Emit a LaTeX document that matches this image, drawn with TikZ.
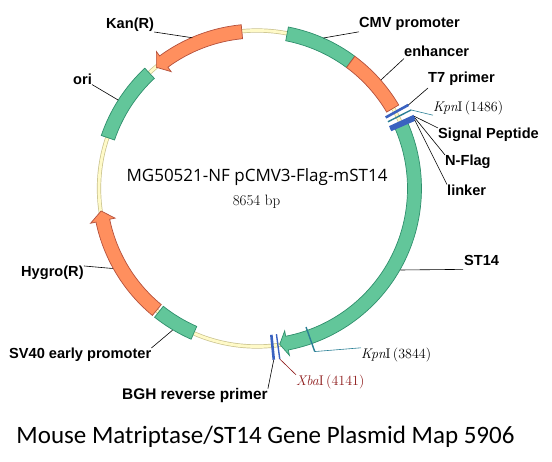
\documentclass[tikz,border=0pt]{standalone}
\usepackage{fontspec}
\usepackage{xcolor}
\usetikzlibrary{positioning}
\newfontfamily\labelfont{Liberation Sans}
\newfontfamily\namefont{Open Sans}
\newfontfamily\titlefont{Carlito}
\newcommand{\onum}{\addfontfeature{Numbers=OldStyle}}
\definecolor{mapgreen}{HTML}{62C69A}
\definecolor{mapgreenline}{HTML}{2F8F6C}
\definecolor{maporange}{HTML}{FF8F5E}
\definecolor{maporangeline}{HTML}{B4503C}
\definecolor{mapyellow}{HTML}{FFFAC8}
\definecolor{mapyellowline}{HTML}{C9C28E}
\definecolor{mapblue}{HTML}{3A62C0}
\definecolor{mapteal}{HTML}{2A7F95}
\definecolor{mapred}{HTML}{8E1B1B}
% band between two angles on the ring
\newcommand{\featbox}[3]{
  \draw[#1] (#2:164.5) arc[start angle=#2,end angle=#3,radius=164.5]
    -- (#3:150.5) arc[start angle=#3,end angle=#2,radius=150.5] -- cycle;
}
% band with an arrow head: style, start, head base, tip
\newcommand{\featarrow}[4]{
  \draw[#1] (#2:164.5) arc[start angle=#2,end angle=#3,radius=164.5]
    -- (#3:170) -- (#4:157.5) -- (#3:145)
    -- (#3:150.5) arc[start angle=#3,end angle=#2,radius=150.5] -- cycle;
}
\begin{document}
\begin{tikzpicture}[
    x=1pt, y=1pt,
    greenfeat/.style={fill=mapgreen, draw=mapgreenline, line width=0.7pt},
    orangefeat/.style={fill=maporange, draw=maporangeline, line width=0.7pt},
    bluetick/.style={draw=mapblue, line width=3pt},
    feat/.style={font=\labelfont\bfseries\fontsize{14.6}{16}\selectfont, inner sep=0pt, anchor=west},
    site/.style={font=\fontsize{14}{16}\selectfont, inner sep=0pt, anchor=west},
    leader/.style={draw=black, line width=0.6pt}
]
\useasboundingbox (0,0) rectangle (552,-462);

\begin{scope}[shift={(257,-188.5)}]
% backbone
\draw[draw=mapyellowline, line width=4.2pt] (0,0) circle (158);
\draw[draw=mapyellow, line width=2.8pt] (0,0) circle (158);

% features
\featbox{greenfeat}{79}{53.5}
\featbox{orangefeat}{53.5}{30.5}
\featarrow{greenfeat}{23.5}{-79}{-81.7}
\featarrow{orangefeat}{95.5}{126.3}{129.7}
\featbox{greenfeat}{133}{161.2}
\featarrow{orangefeat}{-129.5}{-168.2}{-171.8}
\featbox{greenfeat}{-128.5}{-113.6}

% ticks
\draw[bluetick, line width=2.6pt] (28.9:147) -- (28.9:173) coordinate (t7);
\draw[draw=mapteal, line width=1.4pt] (27:147) -- (27:173) coordinate (kpnA);
\draw[bluetick] (24.7:146) -- (24.7:173) coordinate (sigp);
\draw[bluetick, line width=2pt] (24:146) -- (24:173) coordinate (nflag);
\draw[bluetick, line width=2pt] (23.5:146) -- (23.5:172) coordinate (lnk);
\draw[draw=mapteal, line width=1.4pt] (-70.5:147) -- (-70.5:173) coordinate (kpnB);
\draw[draw=mapblue, line width=1.4pt] (-82.4:147) -- (-82.4:172) coordinate (xba);
\draw[bluetick, line width=2.6pt] (-84.4:147) -- (-84.4:172) coordinate (bgh);

% leader ends on the ring
\coordinate (cmv) at (66.2:164.5);
\coordinate (enh) at (41.2:164.5);
\coordinate (st14) at (-29.6:165);
\coordinate (kan) at (113.2:164);
\coordinate (ori) at (147.5:164.5);
\coordinate (hyg) at (-151:165);
\coordinate (sv40) at (-120.8:165);
\end{scope}

% feature labels
\node[feat] (lbcmv) at (359,-24) {CMV promoter};
\node[feat] (lbenh) at (404,-51) {enhancer};
\node[feat] (lbt7) at (428,-79) {T7 primer};
\node[site] (lbkpna) at (433,-108) {{\itshape Kpn}I\,{\onum(1486)}};
\node[feat] (lbsig) at (438,-135) {Signal Peptide};
\node[feat] (lbnf) at (445,-162) {N-Flag};
\node[feat] (lblnk) at (447,-190) {linker};
\node[feat] (lbst) at (464,-260) {ST14};
\node[site] (lbkpnb) at (361,-355) {{\itshape Kpn}I\,{\onum(3844)}};
\node[site, text=mapred] (lbxba) at (296,-382) {{\itshape Xba}I\,{\onum(4141)}};
\node[feat, font=\labelfont\bfseries\fontsize{15.4}{17}\selectfont] (lbbgh) at (122,-396) {BGH reverse primer};
\node[feat] (lbsv) at (9,-355) {SV40 early promoter};
\node[feat] (lbhyg) at (21,-273) {Hygro(R)};
\node[feat] (lbori) at (73,-79) {ori};
\node[feat] (lbkan) at (106,-25) {Kan(R)};

% leaders
\draw[leader] (cmv) -- ([yshift=-1pt]lbcmv.south west);
\draw[leader] (enh) -- ([yshift=-2pt]lbenh.south west);
\draw[leader] (t7) -- ([yshift=-2pt]lbt7.south west);
\draw[draw=mapteal, line width=0.6pt] (kpnA) -- (lbkpna.south west);
\draw[leader] (sigp) -- (lbsig.north west);
\draw[leader] (nflag) -- (lbnf.north west);
\draw[leader] (lnk) -- (lblnk.north west);
\draw[leader] (st14) -- ([xshift=-1pt,yshift=-4pt]lbst.south west);
\draw[draw=mapteal, line width=0.6pt] (kpnB) -- (lbkpnb.north west);
\draw[draw=mapred, line width=0.6pt] (xba) -- (lbxba.north west);
\draw[leader] (bgh) -- (lbbgh.north east);
\draw[leader] (sv40) -- (lbsv.north east);
\draw[leader] (hyg) -- (lbhyg.north east);
\draw[leader] (ori) -- (lbori.south east);
\draw[leader] (kan) -- (lbkan.south east);

% titles
\node[font=\namefont\fontsize{17}{19}\selectfont, inner sep=0pt] (mapname) at (257,-177) {MG50521-NF pCMV3-Flag-mST14};
\node[font=\onum\fontsize{15}{17}\selectfont, inner sep=0pt] (mapsize) at (256.5,-202) {8654 bp};
\node[font=\titlefont\fontsize{25}{29}\selectfont, inner sep=0pt] (maptitle) at (265.5,-437) {Mouse Matriptase/ST14 Gene Plasmid Map 5906};

\end{tikzpicture}
\end{document}
